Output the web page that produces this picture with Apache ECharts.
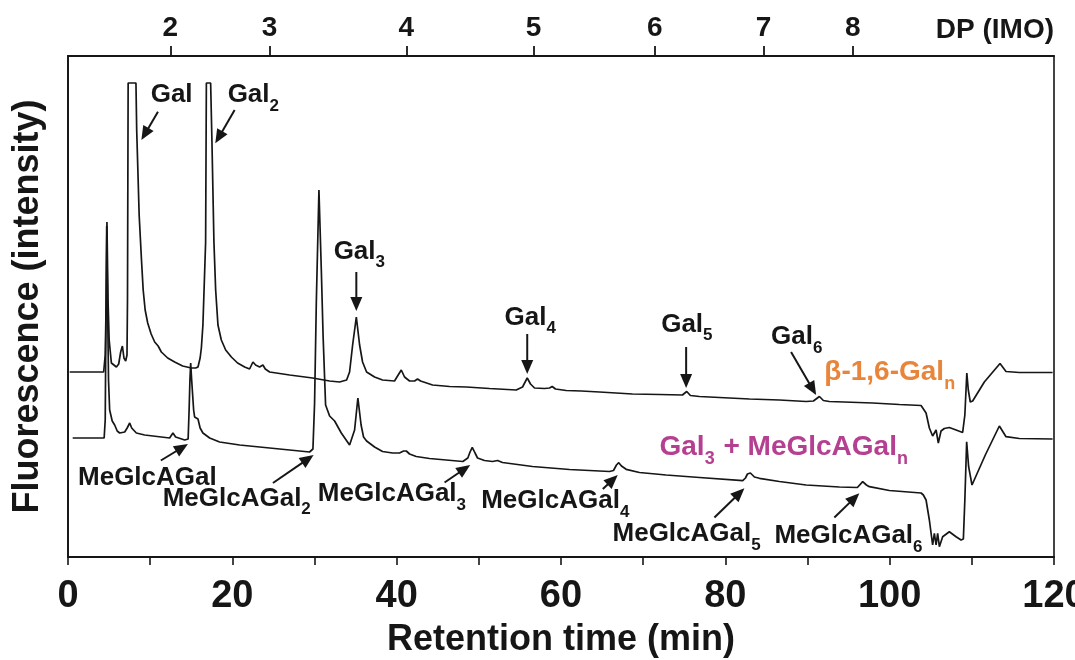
<!DOCTYPE html>
<html><head><meta charset="utf-8">
<script src="https://cdn.jsdelivr.net/npm/echarts@6/dist/echarts.min.js"></script>
<style>html,body{margin:0;padding:0;background:#fff}#c{width:1075px;height:660px}</style>
</head><body><div id="c"></div>
<script>
// Retention time (min) / fluorescence intensity (arbitrary units)
const betaGalTrace = [[0.2,185],[4.34,185],[4.53,202],[4.65,257],[4.74,335],[4.87,257],[5.01,217],[5.28,194],[5.89,190],[6.17,193],[6.41,205],[6.62,211],[6.81,199],[7.02,196],[7.18,202],[7.24,257],[7.32,474],[8.27,474],[8.36,427],[8.52,382],[8.66,342],[8.93,299],[9.15,267],[9.39,247],[9.70,234],[10.12,223],[10.55,215],[10.75,217],[10.97,211],[11.36,205],[12.13,199],[12.98,195],[13.95,191],[15.01,189],[15.54,189],[15.82,190],[16.08,199],[16.23,209],[16.42,232],[16.75,315],[16.84,474],[17.36,474],[17.52,415],[17.76,315],[17.97,267],[18.25,232],[18.66,217],[19.19,207],[19.88,200],[20.64,194],[21.50,190],[22.10,188],[22.51,195],[22.83,192],[23.32,190],[23.72,192],[24.01,188],[24.54,185],[26.97,182],[29.77,179],[31.84,176],[33.05,175],[33.91,177],[34.27,185],[34.64,212],[35.09,240],[35.49,212],[35.85,195],[36.34,185],[37.31,180],[38.28,177],[39.74,176],[40.11,181],[40.56,187],[40.96,180],[41.57,176],[42.18,176],[42.54,178],[42.91,176],[44.37,172],[46.44,170.5],[48.47,170],[51.30,168.5],[54.55,167],[55.32,170],[55.89,179],[56.29,173],[56.78,169],[57.99,168.5],[58.60,169],[58.93,170.5],[59.33,168],[60.63,166.5],[62.46,166],[64.68,165],[68.70,163],[71.98,162.5],[74.78,162],[75.30,165.5],[75.75,161.5],[76.85,160.5],[79.28,159.5],[82.93,158],[86.58,157],[89.83,155.5],[90.72,156],[91.45,160.5],[91.93,156.5],[92.66,155.5],[97.93,154],[101.18,152.5],[103.82,151.5],[104.43,144],[104.83,129],[105.23,121],[105.44,124],[105.65,127],[105.92,114],[106.25,126],[106.65,128.5],[107.26,129.5],[108.08,127],[108.88,124.5],[109.15,142],[109.39,184],[109.57,167],[109.81,155],[110.10,156],[111.52,175],[113.43,193.5],[114.16,185.5],[115.78,184.5],[119.83,184.5]];
const meGlcTrace = [[0.57,119],[4.40,119],[4.53,137],[4.61,227],[4.71,331],[4.81,257],[4.93,177],[5.07,147],[5.38,136],[5.68,132],[5.99,126],[6.29,124],[6.53,125],[6.90,125],[7.20,129],[7.51,134],[7.75,129],[8.32,124],[9.33,122],[11.36,120],[12.37,119],[12.77,124],[13.10,120],[14.20,117],[14.62,118],[14.74,147],[14.84,177],[14.93,194],[15.05,177],[15.29,147],[15.41,140],[15.82,138],[16.08,129],[16.42,124],[17.24,119],[18.45,115],[20.89,112],[23.32,110],[26.36,107.5],[29.40,105],[29.81,108],[30.01,154],[30.22,254],[30.54,367],[30.83,287],[31.05,220],[31.35,152],[31.84,141],[32.45,136],[33.26,124],[34.27,112],[34.51,113],[34.88,127],[35.28,159],[35.67,132],[35.97,120],[36.34,116],[37.31,110],[38.28,105.5],[39.50,104],[40.35,104],[40.84,106],[41.17,106],[41.57,103],[42.38,100.5],[44.00,98.5],[48.05,95.5],[48.66,99],[48.93,105],[49.20,109.7],[49.54,104],[49.84,99],[50.69,96.5],[51.67,95.5],[52.28,96.5],[52.88,94.5],[56.53,90.5],[61.03,87.5],[65.90,85.5],[66.39,86.5],[66.75,92],[67.03,94.3],[67.36,91],[67.93,87.7],[69.55,84.5],[72.80,82],[76.85,79.5],[82.12,76.3],[82.45,79],[82.69,83],[83.05,84],[83.54,80],[84.15,78.7],[86.58,75.5],[89.83,72],[93.88,70],[96.07,69.5],[96.72,75.3],[97.17,72],[97.53,70.3],[99.96,66.5],[103.82,64],[104.10,62],[104.43,57],[104.83,37],[105.23,12],[105.44,23.7],[105.65,12],[105.84,23.7],[106.05,10.3],[106.45,20.3],[107.26,25.3],[108.08,20.3],[108.69,17],[108.97,18],[109.15,57],[109.37,115.3],[109.61,90.3],[110.02,72],[111.64,102],[113.35,131],[114.16,120.3],[115.78,118.5],[119.83,118]];

// Top axis: degree of polymerisation of the IMO ladder
const dpTimes = [12.46, 24.54, 41.17, 56.67, 71.42, 84.64, 95.5];
const dpLabels = ['2', '3', '4', '5', '6', '7', '8'];

// Peak annotations (text anchor = left edge / middle, in data units)
const peakLabels = [
  {text: 'Gal', at: [10.06, 462.3]},
  {text: 'Gal_2', at: [19.43, 461.7]},
  {text: 'Gal_3', at: [32.33, 305.5]},
  {text: 'Gal_4', at: [53.13, 239.5]},
  {text: 'Gal_5', at: [72.19, 232.5]},
  {text: 'Gal_6', at: [85.57, 220]},
  {text: 'MeGlcAGal', at: [1.22, 79]},
  {text: 'MeGlcAGal_2', at: [11.52, 58.5]},
  {text: 'MeGlcAGal_3', at: [30.41, 63]},
  {text: 'MeGlcAGal_4', at: [50.29, 56]},
  {text: 'MeGlcAGal_5', at: [66.27, 23]},
  {text: 'MeGlcAGal_6', at: [85.97, 21]},
  {text: 'β-1,6-Gal_n', at: [92.05, 184.5], color: '#E8853A', size: 28},
  {text: 'Gal_3 + MeGlcAGal_n', at: [71.99, 109.5], color: '#B54091', size: 28}
];
const peakArrows = [
  [[10.95, 445.3], [8.93, 417]],
  [[20.28, 447], [17.93, 413.7]],
  [[35.09, 285], [35.09, 246]],
  [[55.89, 223], [55.89, 183]],
  [[75.23, 210], [75.23, 169]],
  [[88.0, 205], [91.05, 162]],
  [[11.3, 96.5], [14.6, 113]],
  [[24.94, 74], [29.89, 102]],
  [[45.83, 74.5], [48.95, 92]],
  [[65.09, 68], [66.91, 82]],
  [[78.67, 39.5], [82.32, 68.7]],
  [[93.27, 39.5], [96.31, 63.7]]
];

const SANS = '"Liberation Sans", Arial, Helvetica, sans-serif';
const INK = '#161616';

const chart = echarts.init(document.getElementById('c'), null, {renderer: 'canvas'});
const option = {
  animation: false,
  backgroundColor: '#fff',
  title: {
    text: 'DP (IMO)', right: 21, top: 16, padding: 0,
    textStyle: {fontFamily: SANS, fontWeight: 'bold', fontSize: 28, color: INK}
  },
  grid: {left: 68, right: 21, top: 56, bottom: 103, containLabel: false, outerBoundsMode: 'none',
         show: true, borderColor: INK, borderWidth: 1.6, backgroundColor: 'transparent'},
  xAxis: [
    {
      type: 'value', position: 'bottom', min: 0, max: 120, interval: 10,
      axisLine: {show: true, lineStyle: {color: INK, width: 1.8}},
      axisTick: {show: true, inside: false, length: 8, lineStyle: {color: INK, width: 1.6}},
      axisLabel: {
        margin: 21, fontFamily: SANS, fontWeight: 'bold', fontSize: 38, color: INK,
        formatter: v => (v % 20 === 0 ? String(v) : '')
      },
      splitLine: {show: false},
      name: 'Retention time (min)', nameLocation: 'middle', nameGap: 65,
      nameTextStyle: {fontFamily: SANS, fontWeight: 'bold', fontSize: 36, color: INK}
    },
    {
      type: 'value', position: 'top', min: 0, max: 120,
      axisLine: {show: true, lineStyle: {color: INK, width: 1.8}},
      axisTick: {show: true, inside: false, length: 10, customValues: dpTimes, lineStyle: {color: INK, width: 1.8}},
      axisLabel: {
        margin: 14, fontFamily: SANS, fontWeight: 'bold', fontSize: 28, color: INK,
        customValues: dpTimes,
        formatter: v => {
          let best = 0;
          dpTimes.forEach((t, i) => { if (Math.abs(t - v) < Math.abs(dpTimes[best] - v)) best = i; });
          return dpLabels[best];
        }
      },
      splitLine: {show: false}
    }
  ],
  yAxis: {
    type: 'value', min: 0, max: 501,
    axisLine: {show: true, lineStyle: {color: INK, width: 1.8}},
    axisTick: {show: false}, axisLabel: {show: false}, splitLine: {show: false},
    name: 'Fluorescence (intensity)', nameLocation: 'middle', nameGap: 22,
    nameTextStyle: {fontFamily: SANS, fontWeight: 'bold', fontSize: 36, color: INK}
  },
  series: [
    {name: 'β-1,6-Gal', type: 'line', data: betaGalTrace, showSymbol: false, symbol: 'none',
     lineStyle: {color: INK, width: 1.7}, xAxisIndex: 0},
    {name: 'Gal3 + MeGlcAGal', type: 'line', data: meGlcTrace, showSymbol: false, symbol: 'none',
     lineStyle: {color: INK, width: 1.7}, xAxisIndex: 0}
  ]
};
chart.setOption(option);

function buildGraphics() {
  const g = [];
  const ctx = document.createElement('canvas').getContext('2d');
  peakLabels.forEach(l => {
    const [x, y] = chart.convertToPixel({gridIndex: 0}, l.at);
    const size = l.size || 26;
    const subSize = Math.round(size * 0.66);
    const color = l.color || INK;
    let cx = x;
    l.text.split(/(_\w)/).filter(s => s).forEach(p => {
      const isSub = p[0] === '_';
      const s = isSub ? p.slice(1) : p;
      const fs = isSub ? subSize : size;
      const font = 'bold ' + fs + 'px ' + SANS;
      ctx.font = font;
      g.push({
        type: 'text', x: cx, y: isSub ? y + size * 0.42 : y, silent: true,
        style: {text: s, font: font, fill: color, align: 'left', verticalAlign: 'middle',
                textAlign: 'left', textVerticalAlign: 'middle'}
      });
      cx += ctx.measureText(s).width + (isSub ? 1 : 0);
    });
  });
  peakArrows.forEach(a => {
    const p0 = chart.convertToPixel({gridIndex: 0}, a[0]);
    const p1 = chart.convertToPixel({gridIndex: 0}, a[1]);
    const dx = p1[0] - p0[0], dy = p1[1] - p0[1];
    const len = Math.hypot(dx, dy);
    const ux = dx / len, uy = dy / len;
    const head = 14, hw = 6;
    const bx = p1[0] - ux * head, by = p1[1] - uy * head;
    g.push({type: 'line', silent: true,
      shape: {x1: p0[0], y1: p0[1], x2: bx + ux * 2, y2: by + uy * 2},
      style: {stroke: INK, lineWidth: 2}});
    g.push({type: 'polygon', silent: true,
      shape: {points: [[p1[0], p1[1]], [bx - uy * hw, by + ux * hw], [bx + uy * hw, by - ux * hw]]},
      style: {fill: INK}});
  });
  return g;
}
chart.setOption({graphic: buildGraphics()});
</script></body></html>
